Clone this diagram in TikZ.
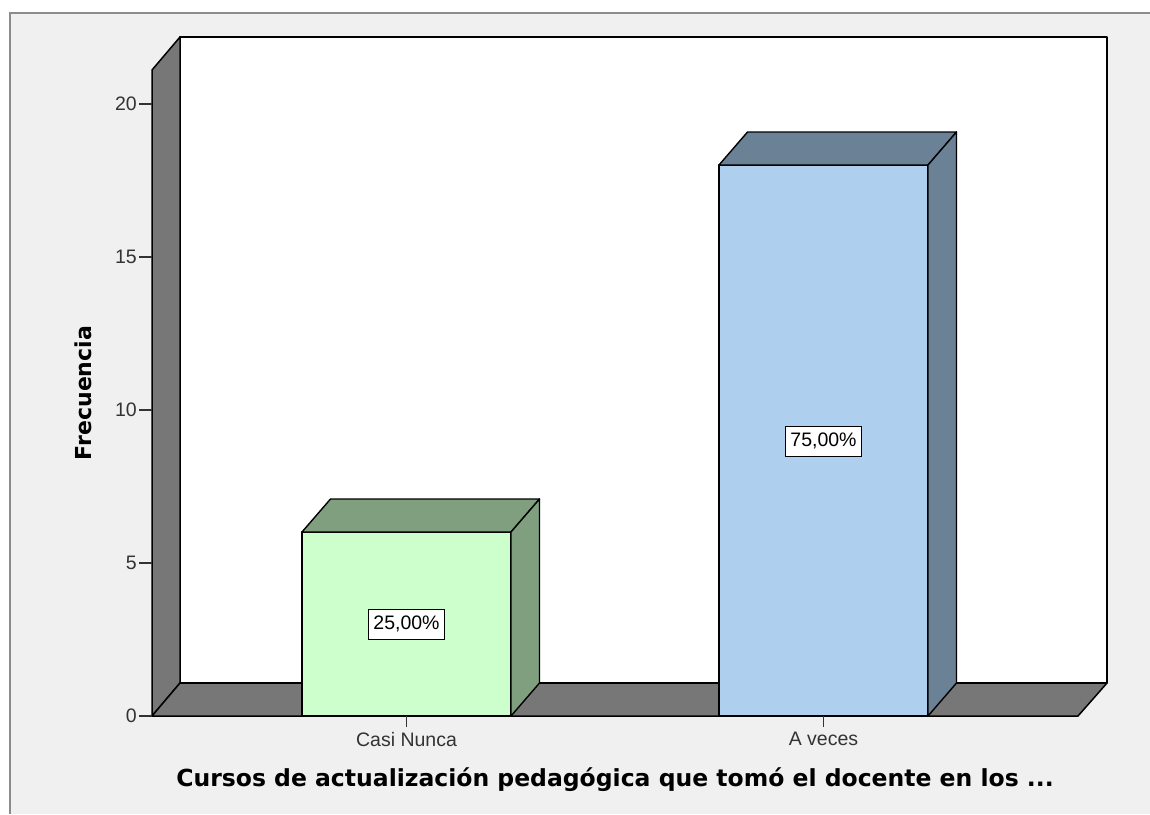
\documentclass[tikz,border=0pt]{standalone}
\usepackage{fontspec}
\setmainfont{Liberation Sans}
\newfontfamily\titlefont{DejaVu Sans}
\usetikzlibrary{calc,positioning}
\definecolor{panelgray}{HTML}{F0F0F0}
\definecolor{framegray}{HTML}{8C8C8C}
\definecolor{wallgray}{HTML}{777777}
\definecolor{greenfront}{HTML}{CCFFCC}
\definecolor{greenside}{HTML}{7F9F7F}
\definecolor{bluefront}{HTML}{AED0EE}
\definecolor{blueside}{HTML}{6A8196}
\begin{document}
\begin{tikzpicture}[x=1pt,y=-1pt,
    wall/.style={fill=wallgray,draw=black,line width=1.5pt,line join=round},
    face/.style={draw=black,line width=1.4pt,line join=round},
    tickmark/.style={draw=black!80,line width=1.3pt},
    ticklabel/.style={font=\fontsize{19.5}{22}\selectfont,text=black!80,inner sep=0pt},
    pctlabel/.style={draw=black,fill=white,line width=1pt,font=\fontsize{19.5}{22}\selectfont,inner xsep=5pt,minimum height=30pt},
    axistitle/.style={font=\titlefont\fontsize{23.5}{28}\selectfont\bfseries,inner sep=0pt}]

    % panel
    \useasboundingbox (0,0) rectangle (1150,814);
    \fill[white] (0,0) rectangle (1150,814);
    \fill[panelgray] (10,13) rectangle (1150,814);
    \draw[framegray,line width=2pt] (10,814) -- (10,13) -- (1150,13);

    % walls and floor
    \coordinate (wallTL) at (180,37);
    \coordinate (wallBR) at (1107,683);
    \coordinate (floorFL) at (152,716);
    \coordinate (floorFR) at (1078,716);
    \filldraw[wall,fill=white] (wallTL) rectangle (wallBR);
    \filldraw[wall] (floorFL) -- (152,70) -- (wallTL) -- (180,683) -- cycle;
    \filldraw[wall] (floorFL) -- (180,683) -- (wallBR) -- (floorFR) -- cycle;

    % Casi Nunca
    \coordinate (aFL) at (302,716);
    \coordinate (aTR) at (511,532);
    \filldraw[face,fill=greenfront] (aFL) rectangle (aTR);
    \filldraw[face,fill=greenside] (302,532) -- ++(28.5,-33) -- ($(aTR)+(28.5,-33)$) -- (aTR) -- cycle;
    \filldraw[face,fill=greenside] (aTR) -- ++(28.5,-33) -- (539.5,683) -- (511,716) -- cycle;

    % A veces
    \coordinate (bFL) at (719,716);
    \coordinate (bTR) at (928,165);
    \filldraw[face,fill=bluefront] (bFL) rectangle (bTR);
    \filldraw[face,fill=blueside] (719,165) -- ++(28.5,-33) -- ($(bTR)+(28.5,-33)$) -- (bTR) -- cycle;
    \filldraw[face,fill=blueside] (bTR) -- ++(28.5,-33) -- (956.5,683) -- (928,716) -- cycle;

    % y axis
    \foreach \v in {0,5,10,15,20}{
        \coordinate (yt\v) at (152,716-30.6*\v);
        \coordinate (ys\v) at (139,716-30.6*\v);
        \draw[tickmark] (ys\v) -- (yt\v);
        \node[ticklabel,anchor=east] (yl\v) at ($(ys\v)+(-2,0)$) {\v};
    }

    % x axis
    \coordinate (xa) at (406.5,716);
    \coordinate (xb) at (823.5,716);
    \draw[tickmark] (xa) -- ++(0,11) coordinate (xa2);
    \draw[tickmark] (xb) -- ++(0,11) coordinate (xb2);
    \node[ticklabel,anchor=north] (casi) at ($(xa2)+(0,5)$) {Casi Nunca};
    \node[ticklabel,anchor=north] (aveces) at ($(xb2)+(0,5)$) {A veces};

    % labels
    \node[pctlabel] (p25) at (406.5,624) {25,00\%};
    \node[pctlabel] (p75) at (823.5,441) {75,00\%};

    \node[axistitle] (xtitle) at (615,780) {Cursos de actualización pedagógica que tomó el docente en los ...};
    \node[axistitle,font=\titlefont\fontsize{22}{26}\selectfont\bfseries,rotate=90] (ytitle) at (83,393) {Frecuencia};
\end{tikzpicture}
\end{document}
